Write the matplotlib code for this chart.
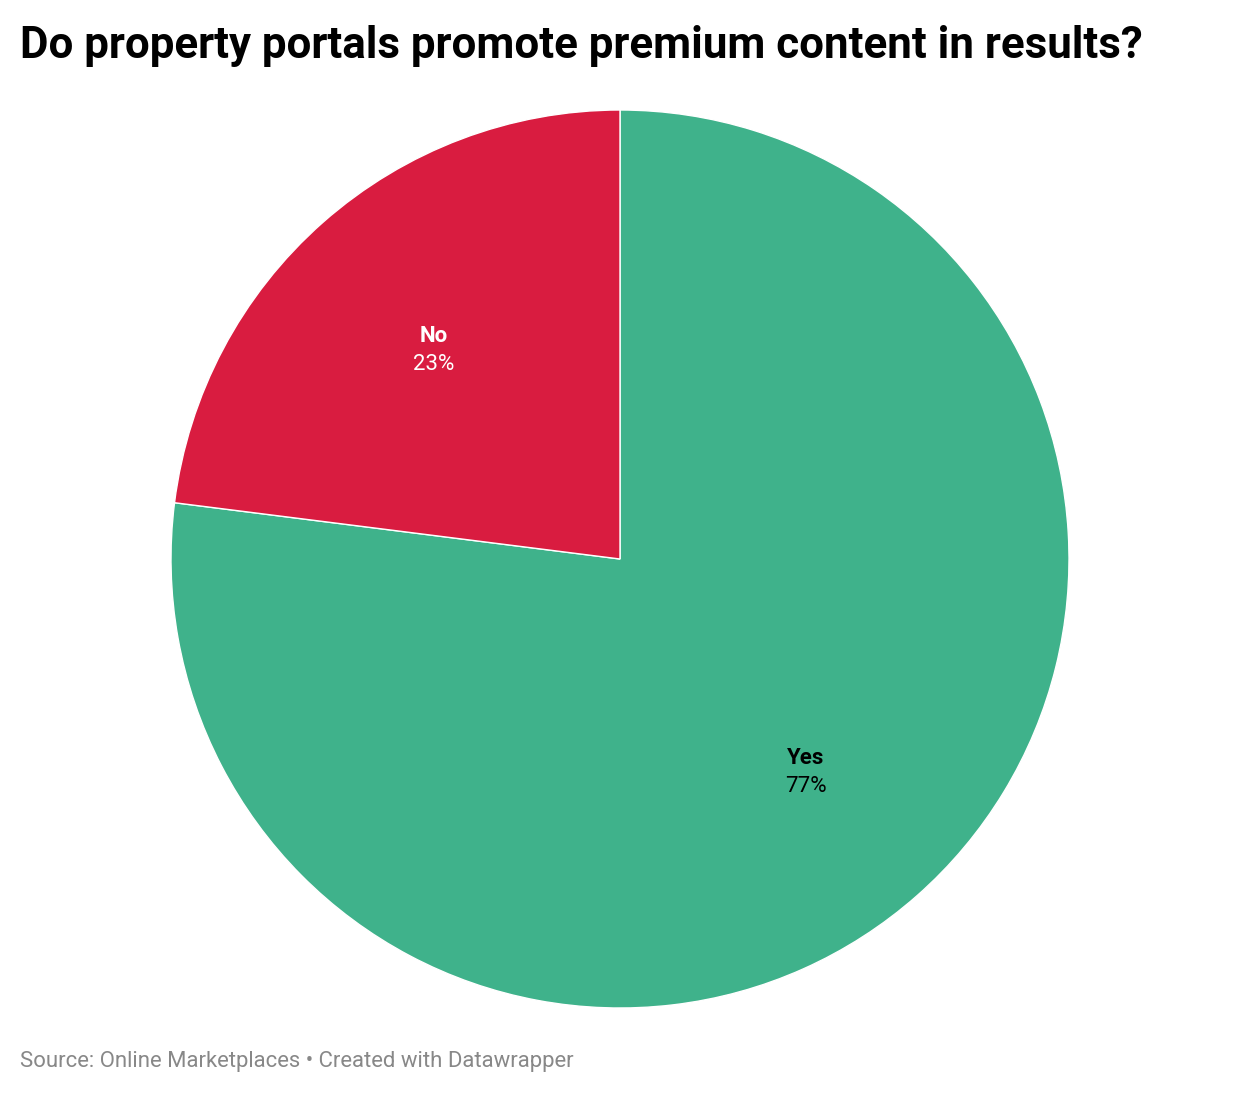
import matplotlib.pyplot as plt
import numpy as np

plt.rcParams['font.family'] = ['Roboto', 'DejaVu Sans']

labels = ["Yes", "No"]
values = [77, 23]
colors = ["#3fb28b", "#d91c40"]
text_colors = ["#000000", "#ffffff"]

fig = plt.figure(figsize=(12.4, 10.96), dpi=100)
fig.patch.set_facecolor("white")

# pie axes, square in pixels
ax = fig.add_axes([171 / 1240, 88 / 1096, 898 / 1240, 898 / 1096])
wedges, _ = ax.pie(values, colors=colors, startangle=90, counterclock=False,
                   radius=1, wedgeprops=dict(edgecolor="white", linewidth=1))
ax.set_xlim(-1, 1)
ax.set_ylim(-1, 1)
ax.set_aspect("equal")
ax.axis("off")

# labels in the middle of each slice
for w, lab, val, tc in zip(wedges, labels, values, text_colors):
    ang = np.deg2rad((w.theta1 + w.theta2) / 2)
    x = 0.626 * np.cos(ang)
    y = 0.626 * np.sin(ang) - 0.005
    ax.text(x, y + 0.031, lab, ha="center", va="center", fontsize=16,
            fontweight="bold", color=tc)
    ax.text(x, y - 0.031, f"{val}%", ha="center", va="center", fontsize=16,
            color=tc)

fig.text(20 / 1240, 1 - 46 / 1096, "Do property portals promote premium content in results?",
         fontsize=31.6, fontweight="bold", ha="left", va="center", color="#000000")
fig.text(20 / 1240, 1 - 1062 / 1096, "Source: Online Marketplaces • Created with Datawrapper",
         fontsize=15.9, ha="left", va="center", color="#888888")

fig.savefig("out.png", dpi=100)
